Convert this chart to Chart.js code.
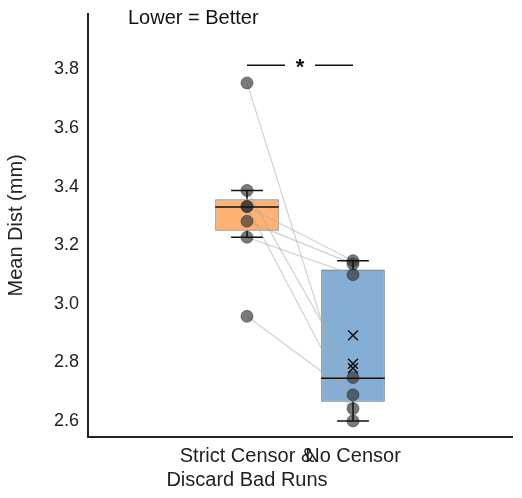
<!DOCTYPE html><html><head><script src="https://cdn.jsdelivr.net/npm/chart.js"></script>
<style>body{margin:0;background:#fff}#w{width:522px;height:498px}</style></head><body><div id="w"><canvas id="c"></canvas></div>
<script>
const categories=[["Strict Censor &","Discard Bad Runs"],"No Censor"];
const strictVals=[3.754,3.387,3.332,3.332,3.282,3.227,2.957];
const noCensorVals=[2.600,2.748,3.147,2.642,3.136,3.099,2.689];
const boxQ1=[3.249,2.665], boxQ3=[3.357,3.117], boxMed=[3.330,2.746];
const whiskLo=[3.227,2.600], whiskHi=[3.387,3.147];
const meanMarks=[2.892,2.795,2.780];
const yTicks=[2.6,2.8,3.0,3.2,3.4,3.6,3.8];
const F='"Liberation Sans", Arial, sans-serif';
const pairLines=strictVals.map((v,i)=>({type:'line',data:[{x:0,y:v},{x:1,y:noCensorVals[i]}],borderColor:'rgba(170,170,170,0.55)',borderWidth:1.2,pointRadius:0,order:2}));
const overlay={id:'ov',afterDatasetsDraw(ch){const c=ch.ctx,x=ch.scales.x,y=ch.scales.y;c.save();c.strokeStyle='#111';c.lineWidth=1.5;
for(let i=0;i<2;i++){const cx=x.getPixelForValue(i),hw=(x.getPixelForValue(1)-x.getPixelForValue(0))*0.3,cw=hw/2;
c.beginPath();c.moveTo(cx-hw,y.getPixelForValue(boxMed[i]));c.lineTo(cx+hw,y.getPixelForValue(boxMed[i]));
[whiskLo[i],whiskHi[i]].forEach(v=>{c.moveTo(cx-cw,y.getPixelForValue(v));c.lineTo(cx+cw,y.getPixelForValue(v));});
c.moveTo(cx,y.getPixelForValue(boxQ3[i]));c.lineTo(cx,y.getPixelForValue(whiskHi[i]));
c.moveTo(cx,y.getPixelForValue(boxQ1[i]));c.lineTo(cx,y.getPixelForValue(whiskLo[i]));c.stroke();}
const sy=y.getPixelForValue(3.814),x0=x.getPixelForValue(0),x1=x.getPixelForValue(1),m=(x0+x1)/2;
c.beginPath();c.moveTo(x0,sy);c.lineTo(m-15,sy);c.moveTo(m+15,sy);c.lineTo(x1,sy);c.stroke();
c.fillStyle='#111';c.font='bold 22px '+F;c.textAlign='center';c.textBaseline='middle';c.fillText('*',m,sy+3);
c.font='20px '+F;c.textAlign='left';c.fillText('Lower = Better',128,18);c.restore();}};
new Chart(document.getElementById('c'),{data:{datasets:[
{type:'bar',data:[{x:0,y:[boxQ1[0],boxQ3[0]]},{x:1,y:[boxQ1[1],boxQ3[1]]}],backgroundColor:['rgba(255,165,90,0.85)','rgba(110,160,205,0.85)'],borderColor:['#8a7a6a','#5a7080'],borderWidth:1.2,borderSkipped:false,barPercentage:0.6,categoryPercentage:1,order:5},
...pairLines,
{type:'scatter',data:strictVals.map(v=>({x:0,y:v})).concat(noCensorVals.map(v=>({x:1,y:v}))),pointRadius:6,backgroundColor:'rgba(50,50,50,0.65)',borderColor:'rgba(40,40,40,0.5)',borderWidth:1,order:1},
{type:'scatter',data:meanMarks.map(v=>({x:1,y:v})),pointStyle:'cross',rotation:45,pointRadius:7,borderColor:'#111',borderWidth:1.5,order:0}
]},options:{animation:false,responsive:true,maintainAspectRatio:false,layout:{padding:{top:5,right:10,left:0,bottom:4}},
plugins:{legend:{display:false},tooltip:{enabled:false}},
scales:{x:{type:'linear',min:-0.5,max:1.5,afterBuildTicks(a){a.ticks=[{value:0},{value:1}];},grid:{display:false,drawTicks:true,tickLength:5,tickColor:'#222'},border:{color:'#222',width:2},ticks:{color:'#222',font:{size:20,family:F},padding:2,callback:v=>categories[v]}},
y:{min:2.545,max:3.99,afterBuildTicks(a){a.ticks=yTicks.map(v=>({value:v}));},afterFit(a){a.width=88;},grid:{display:false,drawTicks:true,tickLength:6,tickColor:'#222'},border:{color:'#222',width:2},
ticks:{color:'#222',font:{size:18,family:F},callback:v=>v.toFixed(1)},title:{display:true,text:'Mean Dist (mm)',color:'#222',font:{size:20,family:F},padding:{bottom:6}}}}},plugins:[overlay]});
</script></body></html>
